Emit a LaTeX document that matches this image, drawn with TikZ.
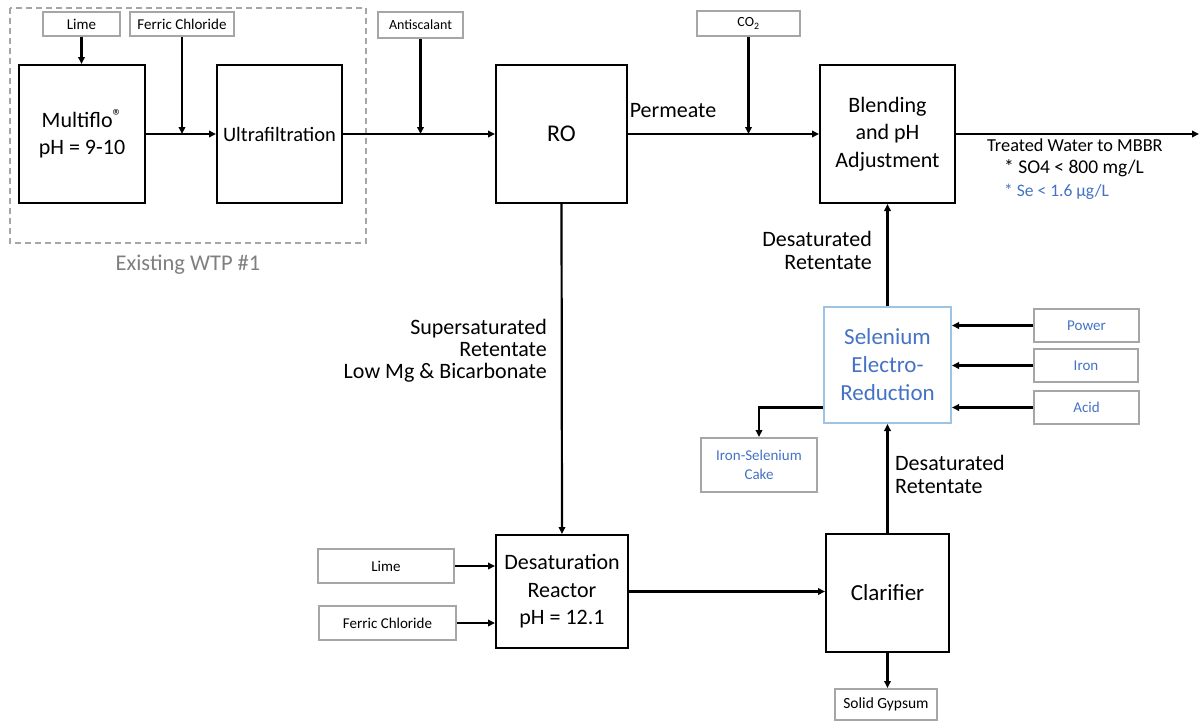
\documentclass[tikz,border=0pt]{standalone}
\usepackage{fontspec}
\setmainfont{Carlito}
\usetikzlibrary{arrows.meta}

\definecolor{feedgray}{HTML}{A6A6A6}
\definecolor{wtpgray}{HTML}{7F7F7F}
\definecolor{seblue}{HTML}{4472C4}
\definecolor{selight}{HTML}{9DC3E6}

\newcommand{\fs}[1]{\fontsize{#1}{1.25\dimexpr#1pt\relax}\selectfont}

\tikzset{
  unit/.style={draw, line width=2pt, align=center, font=\fs{22}},
  feed/.style={draw=feedgray, line width=2pt, align=center, font=\fs{15}},
  flow/.style={line width=2.2pt, -{Triangle[length=7pt,width=6.5pt]}},
  tag/.style={inner sep=0pt, font=\fontsize{22}{23}\selectfont},
}

\begin{document}
\begin{tikzpicture}[x=1pt,y=-1pt]
    \useasboundingbox (0,0) rectangle (1199,723);
    % Existing plant boundary
    \draw[feedgray, line width=1.5pt, dash pattern=on 6pt off 4pt] (10,8) rectangle (366,243);
    \node[tag, text=wtpgray, font=\fs{22.5}] (wtp) at (188,265) {Existing WTP \#1};
    % Process units
    \node[unit, minimum width=126pt, minimum height=138pt] (multiflo) at (82,134)
      {Multiflo\raisebox{0.45ex}{\fs{19}®}\\pH = 9-10};
    \node[unit, font=\fs{20.5}, minimum width=125pt, minimum height=138pt] (uf) at (279.5,134) {Ultrafiltration};
    \node[unit, font=\fs{24}, minimum width=131pt, minimum height=138pt] (ro) at (561.5,134) {RO};
    \node[unit, minimum width=135pt, minimum height=138pt] (blend) at (887.5,134) {Blending\\and pH\\Adjustment};
    \node[unit, minimum width=132pt, minimum height=113pt] (desat) at (562,591.5) {Desaturation\\Reactor\\pH = 12.1};
    \node[unit, font=\fs{23}, minimum width=123pt, minimum height=118pt] (clar) at (887.5,593) {Clarifier};
    \node[unit, draw=selight, text=seblue, minimum width=127pt, minimum height=116pt,
      font=\fontsize{23}{28}\selectfont] (sele) at (887.5,365) {Selenium\\Electro-\\Reduction};
    % Chemical feeds and residuals
    \node[feed, minimum width=77pt, minimum height=24pt] (lime) at (81.5,24) {Lime};
    \node[feed, minimum width=104pt, minimum height=24pt] (ferric) at (182,24) {Ferric Chloride};
    \node[feed, font=\fs{14}, minimum width=85pt, minimum height=26pt] (anti) at (420.5,25) {Antiscalant};
    \node[feed, font=\fs{14}, minimum width=103pt, minimum height=25pt] (co2) at (748.5,23.5) {CO\textsubscript{2}};
    \node[feed, minimum width=136pt, minimum height=34pt] (limeb) at (386,566) {Lime};
    \node[feed, minimum width=137pt, minimum height=34pt] (ferricb) at (387.5,623) {Ferric Chloride};
    \node[feed, font=\fs{15.5}, minimum width=102pt, minimum height=31pt] (gypsum) at (886,704.5) {Solid Gypsum};
    \node[feed, text=seblue, minimum width=105pt, minimum height=33pt] (power) at (1086.5,325.5) {Power};
    \node[feed, text=seblue, minimum width=104pt, minimum height=33pt] (iron) at (1086,365.5) {Iron};
    \node[feed, text=seblue, minimum width=105pt, minimum height=33pt] (acid) at (1086.5,407.5) {Acid};
    \node[feed, text=seblue, minimum width=116pt, minimum height=54pt] (cake) at (759,465) {Iron-Selenium\\Cake};
    % Main train
    \draw[flow] (multiflo.east) -- (uf.west);
    \draw[flow] (uf.east) -- (ro.west);
    \draw[flow] (ro.east) -- (blend.west);
    \coordinate (mbbr) at (1199,134);
    \draw[flow] (blend.east) -- (mbbr);
    \draw[flow] (lime.south) -- (lime.south |- multiflo.north);
    \foreach \f/\u in {ferric/uf, anti/ro, co2/blend}
      \draw[flow] (\f.south) -- (\f.south |- \u.west);
    % Retentate loop
    \draw[flow] (ro.south) -- (desat.north);
    \draw[flow] (desat.east) -- (desat.east -| clar.west);
    \draw[flow] (clar.north) -- (sele.south);
    \draw[flow] (sele.north) -- (blend.south);
    \draw[flow] (clar.south) -- (clar.south |- gypsum.north);
    \foreach \f in {limeb, ferricb}
      \draw[flow] (\f.east) -- (\f.east -| desat.west);
    \foreach \f in {power, iron, acid}
      \draw[flow] (\f.west) -- (\f.west -| sele.east);
    \draw[flow] (sele.west |- acid.west) -| (cake.north);
    % Stream labels
    \node[tag] (perm) at (673,111) {Permeate};
    \node[tag, anchor=east, align=right] (retup) at (872,250) {Desaturated\\Retentate};
    \node[tag, anchor=west, align=left] (retlow) at (895,474) {Desaturated\\Retentate};
    \node[tag, anchor=east, align=right, font=\fontsize{22}{22}\selectfont] (super) at (547,351)
      {Supersaturated\\Retentate\\Low Mg \& Bicarbonate};
    \node[tag, anchor=west, font=\fs{18.3}] (treated) at (987,145) {Treated Water to MBBR};
    \node[tag, anchor=west, font=\fs{19.5}] (so4) at (1004,168) {* SO4 < 800 mg/L};
    \node[tag, anchor=west, text=seblue, font=\fs{17.5}] (se) at (1004,192) {* Se < 1.6 µg/L};
\end{tikzpicture}
\end{document}
